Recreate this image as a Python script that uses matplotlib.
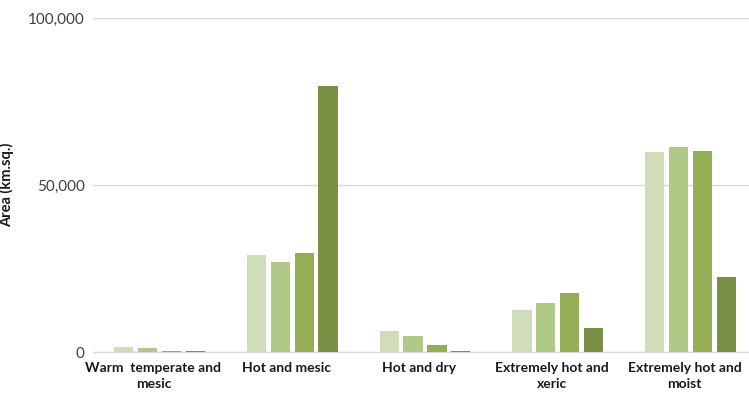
import matplotlib
matplotlib.use("Agg")
import matplotlib.pyplot as plt
import numpy as np

# Area of each climate zone across four periods
categories = ["Warm  temperate and\nmesic", "Hot and mesic", "Hot and dry",
              "Extremely hot and\nxeric", "Extremely hot and\nmoist"]
series_1 = [1500, 29000, 6400, 12500, 59900]
series_2 = [1100, 27000, 4800, 14600, 61400]
series_3 = [400, 29500, 2000, 17700, 60200]
series_4 = [400, 79700, 400, 7200, 22500]
yticks = [0, 50000, 100000]
ytick_labels = ["0", "50,000", "100,000"]

colors = ["#D0DDB8", "#B1C987", "#93AE55", "#7A9145"]
series = [series_1, series_2, series_3, series_4]

plt.rcParams["font.family"] = ["Lato", "DejaVu Sans"]

fig = plt.figure(figsize=(7.49, 3.97), dpi=100)
# plot area runs slightly past the right edge of the canvas
ax = fig.add_axes([93 / 749, 1 - 352 / 397, (757 - 93) / 749, (352 - 18) / 397])

x = np.arange(len(categories))
width = 0.145
step = 0.18
for i, (vals, c) in enumerate(zip(series, colors)):
    ax.bar(x + (i - 1.5) * step, vals, width=width, color=c,
           linewidth=0, zorder=3)

ax.set_xlim(-0.5, len(categories) - 0.5)
ax.set_ylim(0, 100000)
ax.set_yticks(yticks)
ax.set_yticklabels(ytick_labels, fontsize=11, color="#404040")
# category labels sit a little left of their bar groups
ax.set_xticks(x - 0.045)
ax.set_xticklabels(categories, fontsize=10, fontweight="bold", color="#1a1a1a",
                   linespacing=1.45)
ax.tick_params(axis="both", length=0)
ax.tick_params(axis="x", pad=7)
ax.tick_params(axis="y", pad=6)
ax.grid(axis="y", color="#D9D9D9", linewidth=1, zorder=0)
for s in ["top", "right", "left"]:
    ax.spines[s].set_visible(False)
ax.spines["bottom"].set_color("#D9D9D9")
ax.spines["bottom"].set_linewidth(1)
ax.spines["bottom"].set_zorder(1)
ax.set_ylabel("Area (km.sq.)", fontsize=10.5, fontweight="bold", color="#1a1a1a",
              labelpad=10)

fig.savefig("out.png", dpi=100)
